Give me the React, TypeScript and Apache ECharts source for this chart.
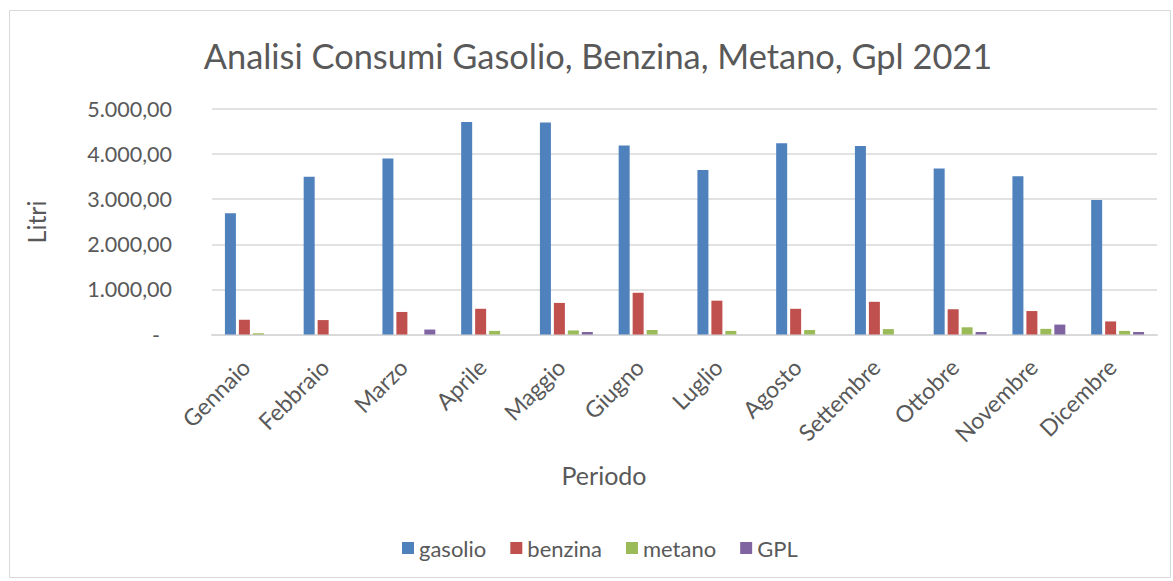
import React, { useEffect, useRef } from "react";
import * as echarts from "echarts";

const months = ["Gennaio", "Febbraio", "Marzo", "Aprile", "Maggio", "Giugno", "Luglio", "Agosto", "Settembre", "Ottobre", "Novembre", "Dicembre"];
const gasolio = [2690, 3500, 3900, 4710, 4700, 4190, 3650, 4240, 4180, 3680, 3510, 2980];
const benzina = [327, 320, 500, 570, 700, 925, 750, 570, 725, 560, 520, 290];
const metano = [25, 0, 0, 80, 90, 100, 80, 100, 120, 160, 125, 80];
const gpl = [0, 0, 110, 0, 55, 0, 0, 0, 0, 55, 220, 55];
const seriesNames = ["gasolio", "benzina", "metano", "GPL"];
const colors = ["#4F81BD", "#C0504D", "#9BBB59", "#8064A2"];

const FONT = "Lato, 'Liberation Sans', sans-serif";
const TXT = "#595959";

function fmt(v: number): string {
  if (v === 0) return "{z|-}";
  const s = v.toFixed(2).split(".");
  const int = s[0].replace(/\B(?=(\d{3})+(?!\d))/g, ".");
  return int + "," + s[1];
}

export default function App() {
  const ref = useRef<HTMLDivElement>(null);
  useEffect(() => {
    document.body.style.margin = "0";
    const chart = echarts.init(ref.current!, null, { renderer: "svg" });
    const data = [gasolio, benzina, metano, gpl];
    chart.setOption({
      animation: false,
      backgroundColor: "#ffffff",
      textStyle: { fontFamily: FONT },
      title: {
        text: "Analisi Consumi Gasolio, Benzina, Metano, Gpl 2021",
        left: 593,
        top: 33,
        textAlign: "center",
        textStyle: { fontFamily: FONT, fontSize: 34.4, fontWeight: "normal", color: TXT },
      },
      legend: {
        data: seriesNames,
        left: 397,
        top: 532,
        itemWidth: 12,
        itemHeight: 12,
        itemGap: 24,
        icon: "rect",
        textStyle: { fontFamily: FONT, fontSize: 22, color: TXT },
      },
      grid: { left: 212, right: 16, top: 109, bottom: 246.5, containLabel: false },
      xAxis: {
        type: "category",
        data: months,
        axisLine: { lineStyle: { color: "#D9D9D9", width: 2 } },
        axisTick: { show: false },
        axisLabel: {
          rotate: 45,
          margin: 34,
          fontFamily: FONT,
          fontSize: 23,
          lineHeight: 16,
          verticalAlign: "bottom",
          color: TXT,
          interval: 0,
        },
      },
      yAxis: {
        type: "value",
        min: 0,
        max: 5000,
        interval: 1000,
        axisLine: { show: false },
        axisTick: { show: false },
        splitLine: { lineStyle: { color: "#D9D9D9", width: 1.5 } },
        axisLabel: {
          margin: 40,
          fontFamily: FONT,
          fontSize: 21.5,
          color: TXT,
          formatter: fmt,
          rich: { z: { fontFamily: FONT, fontSize: 21.5, color: TXT, padding: [0, 12, 0, 0] } },
        },
      },
      graphic: [
        {
          type: "rect",
          shape: { x: 9.5, y: 10.5, width: 1161, height: 567 },
          style: { fill: "none", stroke: "#D9D9D9", lineWidth: 1 },
          silent: true,
        },
        {
          type: "text",
          x: 36,
          y: 222,
          rotation: Math.PI / 2,
          style: { text: "Litri", fontFamily: FONT, fontSize: 25, fill: TXT, textAlign: "center", textVerticalAlign: "middle" },
        },
        {
          type: "text",
          x: 604,
          y: 475,
          style: { text: "Periodo", fontFamily: FONT, fontSize: 25, fill: TXT, textAlign: "center", textVerticalAlign: "middle" },
        },
      ],
      series: seriesNames.map((n, i) => ({
        name: n,
        type: "bar",
        data: data[i],
        barWidth: 11,
        barGap: "27%",
        itemStyle: { color: colors[i] },
      })),
    });
    return () => chart.dispose();
  }, []);
  return <div ref={ref} style={{ width: 1173, height: 581 }} />;
}
